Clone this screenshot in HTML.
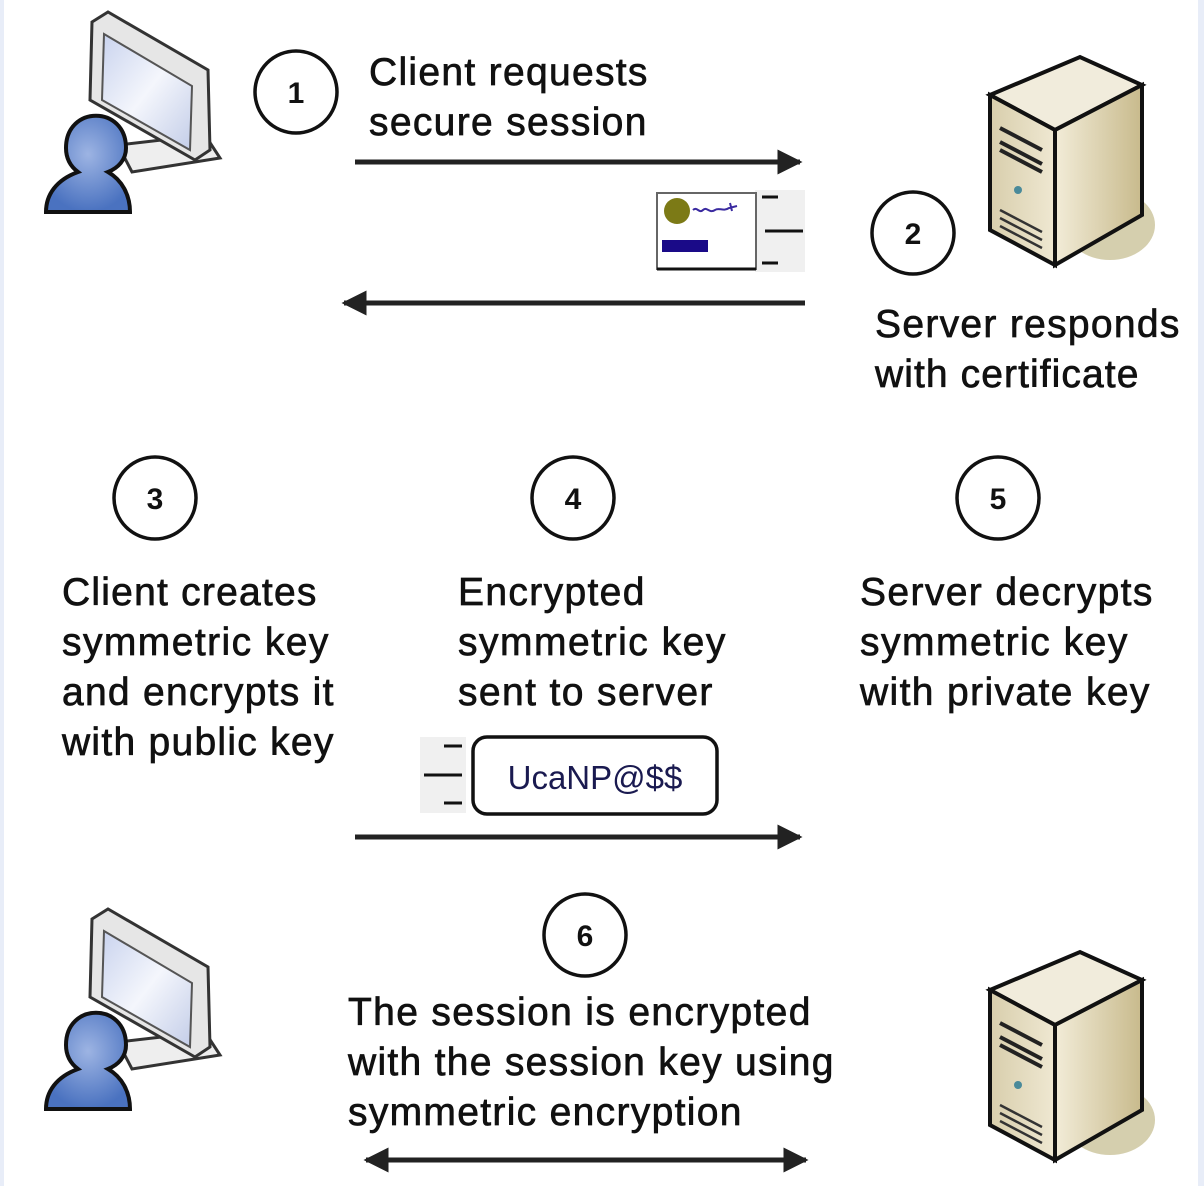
<!DOCTYPE html>
<html><head><meta charset="utf-8"><style>
html,body{margin:0;padding:0;background:#fff;}
svg{display:block;}
text{font-family:"Liberation Sans",Arial,sans-serif;fill:#111;}
.t{stroke:#111;stroke-width:0.7;letter-spacing:0.6px;}
</style></head><body>
<svg width="1204" height="1186" viewBox="0 0 1204 1186" xmlns="http://www.w3.org/2000/svg">
<defs>
<linearGradient id="scr" x1="0" y1="0" x2="1" y2="1"><stop offset="0" stop-color="#c9d3ee"/><stop offset="0.5" stop-color="#f4f6fc"/><stop offset="1" stop-color="#c3cde8"/></linearGradient>
<radialGradient id="per" cx="0.5" cy="0.4" r="0.6"><stop offset="0" stop-color="#9db4e3"/><stop offset="1" stop-color="#4a72c0"/></radialGradient>
<linearGradient id="srvF" x1="0" y1="0" x2="1" y2="0"><stop offset="0" stop-color="#d8ceac"/><stop offset="1" stop-color="#efe8d2"/></linearGradient>
<linearGradient id="srvS" x1="0" y1="0" x2="1" y2="0"><stop offset="0" stop-color="#f2ecd8"/><stop offset="1" stop-color="#c8ba8c"/></linearGradient>
<marker id="ah" viewBox="0 0 10 10" refX="9" refY="5" markerWidth="5" markerHeight="5" orient="auto-start-reverse"><path d="M0,0 L10,5 L0,10 z" fill="#222"/></marker>
<g id="pc">
  <path d="M118,145 L205,135 L220,158 L132,172 z" fill="#eee" stroke="#333" stroke-width="3"/>
  <path d="M92,22 L108,12 L208,70 L210,150 L195,160 L90,100 z" fill="#e6e6e6" stroke="#333" stroke-width="3"/>
  <path d="M104,34 L192,86 L190,150 L102,100 z" fill="url(#scr)" stroke="#555" stroke-width="2"/>
  <path d="M66,148 C66,105 126,105 126,148 C126,160 118,168 108,172 C122,180 130,195 130,212 L46,212 C46,195 56,180 78,172 C70,166 66,158 66,148 z" fill="url(#per)" stroke="#111" stroke-width="4"/>
</g>
<g id="srv">
  <ellipse cx="1110" cy="225" rx="45" ry="35" fill="#d5cfae"/>
  <path d="M990,95 L1080,57 L1142,85 L1055,130 z" fill="#f1ecdc" stroke="#111" stroke-width="4"/>
  <path d="M990,95 L1055,130 L1055,265 L990,230 z" fill="url(#srvF)" stroke="#111" stroke-width="4"/>
  <path d="M1055,130 L1142,85 L1142,215 L1055,265 z" fill="url(#srvS)" stroke="#111" stroke-width="4"/>
  <path d="M1000,128 L1042,150 M1000,142 L1042,164 M1000,150 L1042,172" stroke="#222" stroke-width="4"/>
  <circle cx="1018" cy="190" r="4" fill="#4a8a9a"/>
  <path d="M1000,210 L1042,232 M1000,218 L1042,240 M1000,226 L1042,248" stroke="#333" stroke-width="2.5"/>
</g>
</defs>
<rect x="0" y="0" width="4" height="1186" fill="#e8edf8"/>
<rect x="1198" y="0" width="6" height="1186" fill="#e8edf8"/>

<use href="#pc"/>
<use href="#pc" transform="translate(0,897)"/>
<use href="#srv"/>
<use href="#srv" transform="translate(0,895)"/>

<g fill="#fff" stroke="#111" stroke-width="3.5">
<circle cx="296" cy="92" r="41"/><circle cx="913" cy="233" r="41"/>
<circle cx="155" cy="498" r="41"/><circle cx="573" cy="498" r="41"/>
<circle cx="998" cy="498" r="41"/><circle cx="585" cy="935" r="41"/>
</g>
<g font-size="30" font-weight="bold" text-anchor="middle">
<text x="296" y="103">1</text><text x="913" y="244">2</text><text x="155" y="509">3</text>
<text x="573" y="509">4</text><text x="998" y="509">5</text><text x="585" y="946">6</text>
</g>

<g stroke="#222" stroke-width="5" fill="none">
<line x1="355" y1="162" x2="800" y2="162" marker-end="url(#ah)"/>
<line x1="805" y1="303" x2="344" y2="303" marker-end="url(#ah)"/>
<line x1="355" y1="837" x2="800" y2="837" marker-end="url(#ah)"/>
<line x1="366" y1="1160" x2="806" y2="1160" marker-start="url(#ah)" marker-end="url(#ah)"/>
</g>

<rect x="755" y="190" width="50" height="82" fill="#f0f0f0"/>
<rect x="657" y="193" width="99" height="76" fill="#fff" stroke="#666" stroke-width="2"/>
<line x1="657" y1="269" x2="756" y2="269" stroke="#111" stroke-width="3"/>
<circle cx="677" cy="211" r="13" fill="#7c7a16"/>
<path d="M693,210 c4,-4 6,4 10,0 c4,-4 6,4 12,0 c4,-3 8,2 14,-2 l8,-2 M730,203 l2,8" stroke="#3a2aa0" stroke-width="2" fill="none"/>
<rect x="662" y="240" width="46" height="12" fill="#1a0a88"/>
<g stroke="#111" stroke-width="3"><line x1="762" y1="197" x2="778" y2="197"/><line x1="765" y1="231" x2="803" y2="231"/><line x1="762" y1="263" x2="778" y2="263"/></g>

<rect x="420" y="737" width="46" height="76" fill="#f0f0f0"/>
<g stroke="#111" stroke-width="3"><line x1="444" y1="746" x2="462" y2="746"/><line x1="424" y1="775" x2="462" y2="775"/><line x1="444" y1="803" x2="462" y2="803"/></g>
<rect x="473" y="737" width="244" height="77" rx="14" fill="#fff" stroke="#111" stroke-width="3.5"/>
<text x="595" y="789" font-size="33" text-anchor="middle" style="fill:#1a1a50">UcaNP@$$</text>

<g font-size="39" class="t">
<text x="369" y="85" textLength="279">Client requests</text>
<text x="369" y="135" textLength="278">secure session</text>
<text x="875" y="337" textLength="305">Server responds</text>
<text x="875" y="387" textLength="264">with certificate</text>
<text x="62" y="605" textLength="255">Client creates</text>
<text x="62" y="655" textLength="267">symmetric  key</text>
<text x="62" y="705" textLength="272">and encrypts it</text>
<text x="62" y="755" textLength="272">with public key</text>
<text x="458" y="605" textLength="187">Encrypted</text>
<text x="458" y="655" textLength="268">symmetric  key</text>
<text x="458" y="705" textLength="255">sent to server</text>
<text x="860" y="605" textLength="293">Server decrypts</text>
<text x="860" y="655" textLength="268">symmetric  key</text>
<text x="860" y="705" textLength="290">with private key</text>
<text x="348" y="1025" textLength="463">The session is encrypted</text>
<text x="348" y="1075" textLength="486">with the session key using</text>
<text x="348" y="1125" textLength="394">symmetric  encryption</text>
</g>
</svg>
</body></html>
